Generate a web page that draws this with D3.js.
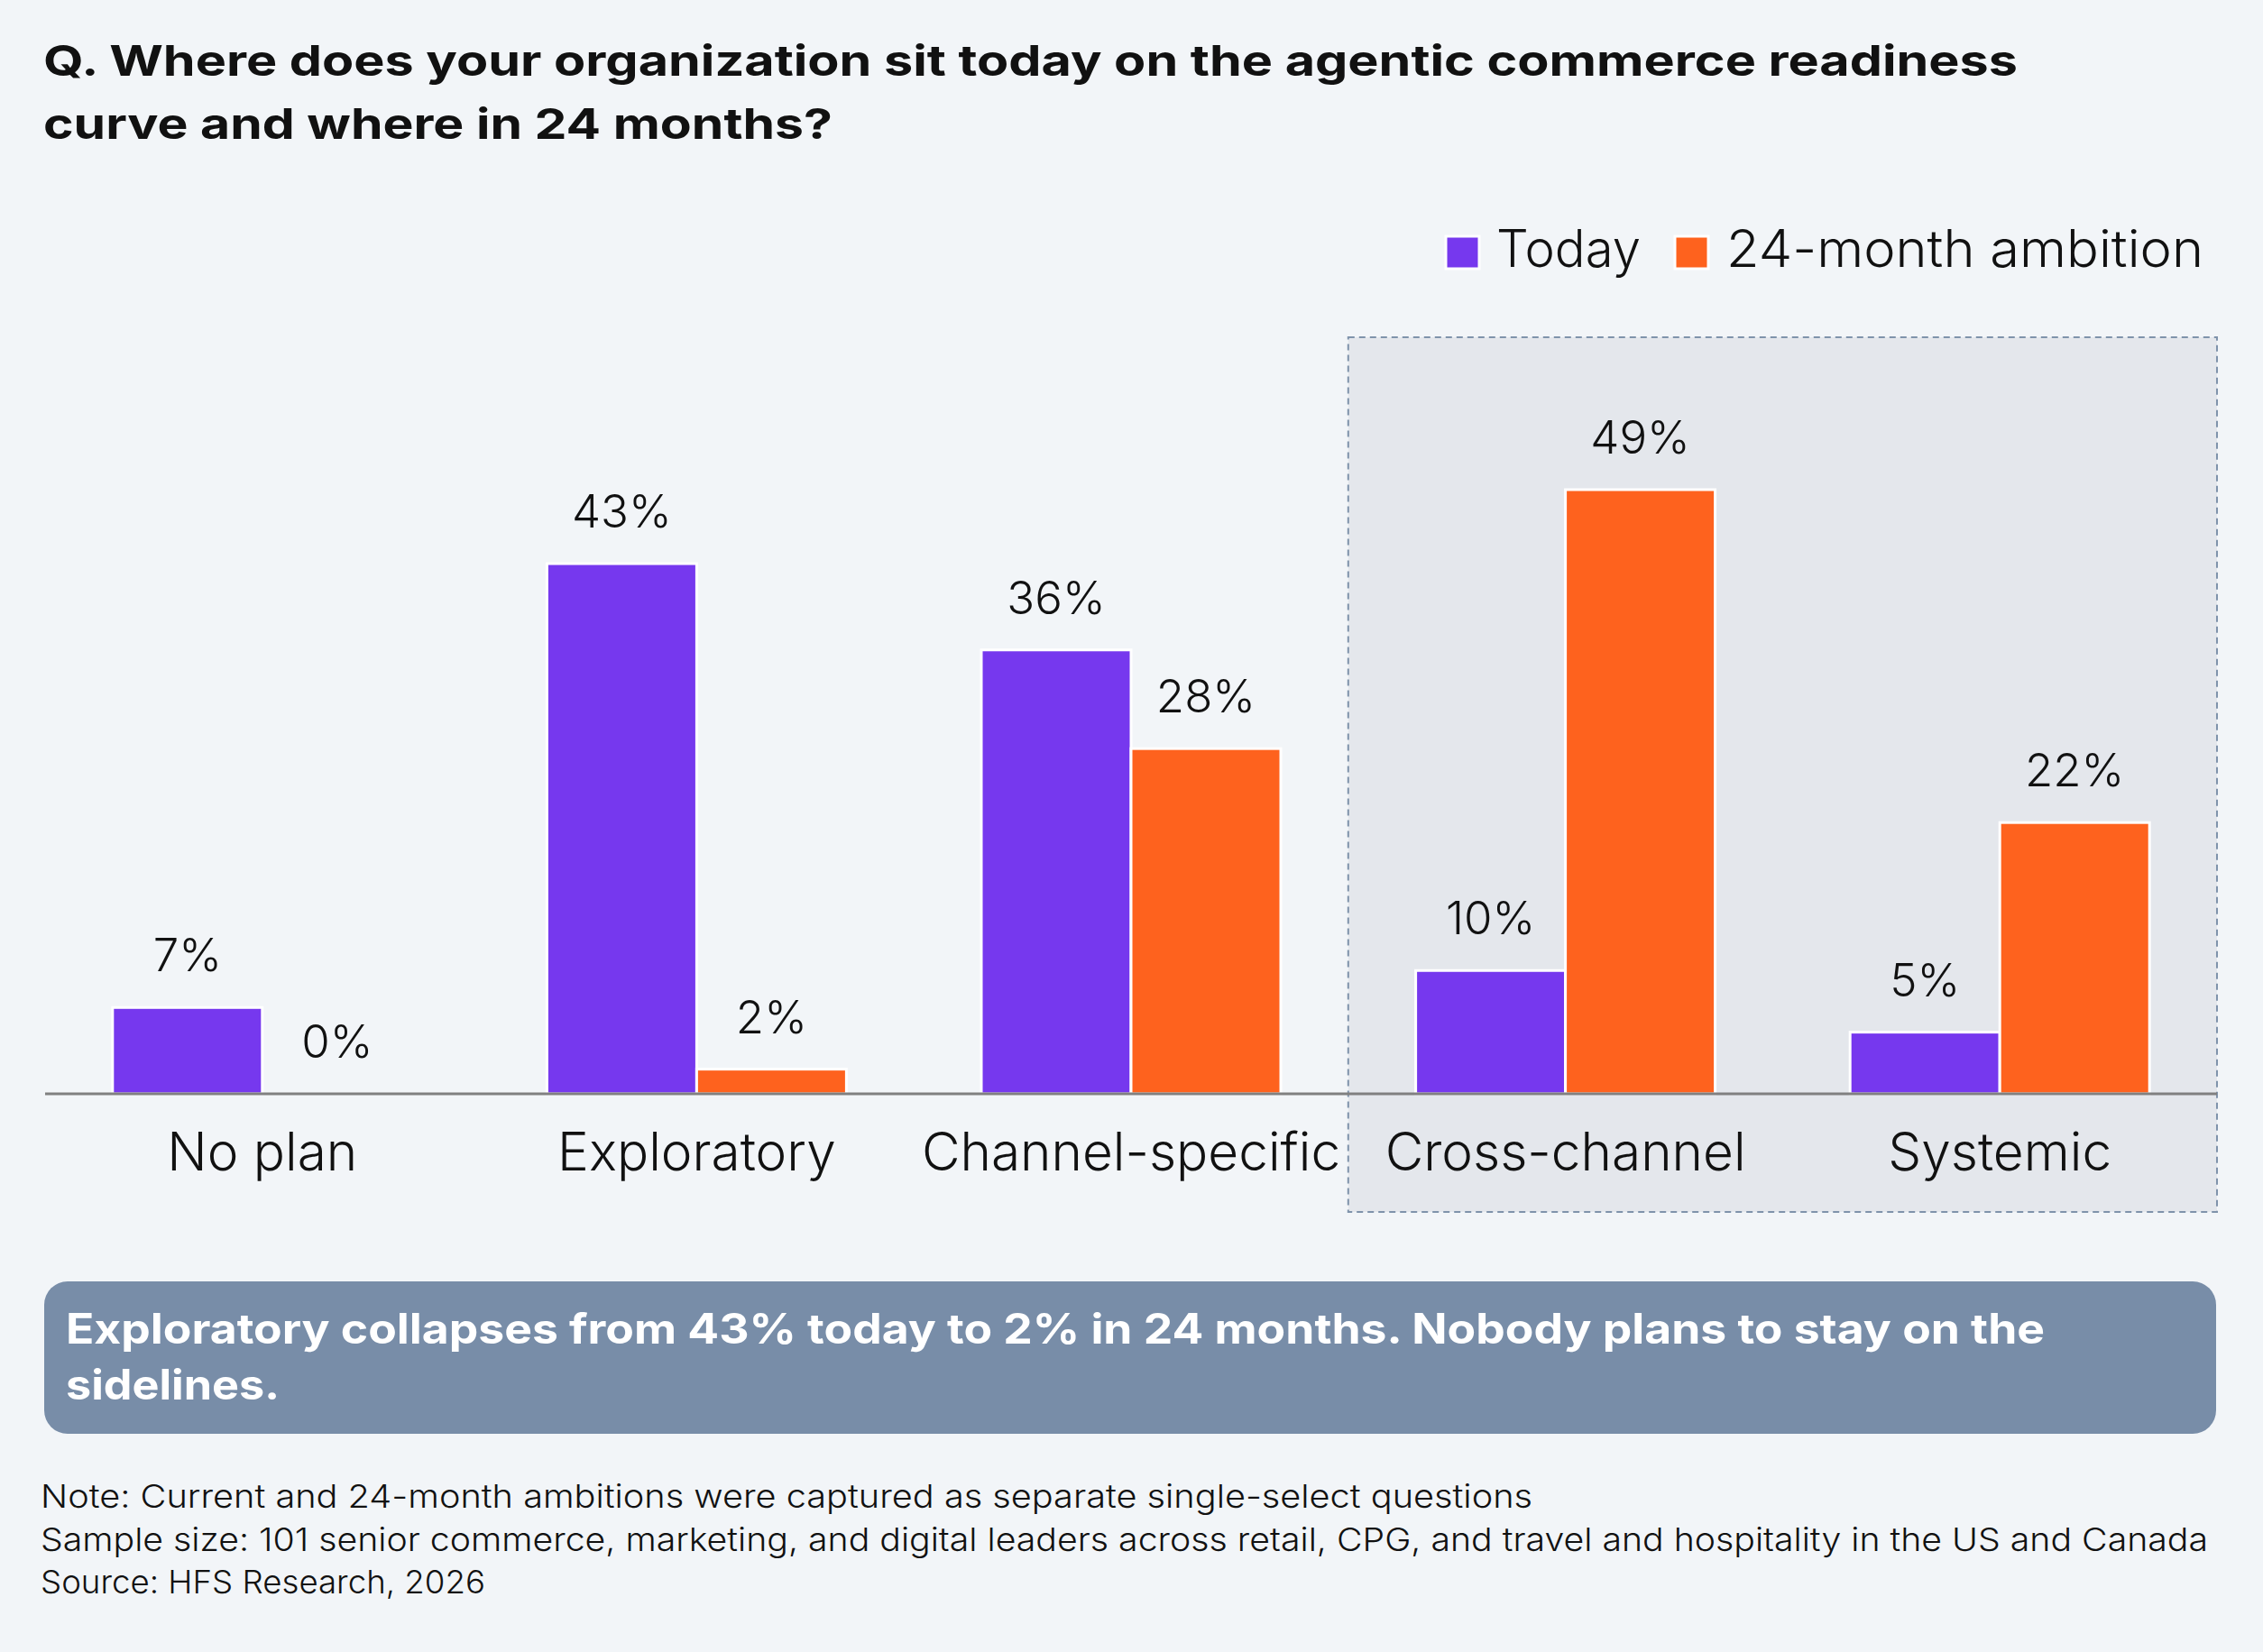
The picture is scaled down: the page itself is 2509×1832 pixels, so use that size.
<!DOCTYPE html>
<html><head><meta charset="utf-8">
<script src="https://cdn.jsdelivr.net/npm/d3@7"></script>
<style>html,body{margin:0;padding:0;background:#F2F5F8;}svg{display:block;}</style>
</head><body>
<svg id="chart" width="2509" height="1832"></svg>
<script>
const categories = ["No plan", "Exploratory", "Channel-specific", "Cross-channel", "Systemic"];
const seriesNames = ["Today", "24-month ambition"];
const todayValues = [7, 43, 36, 10, 5];
const ambitionValues = [0, 2, 28, 49, 22];
const highlightedCategories = ["Cross-channel", "Systemic"];
const titleLines = ["Q. Where does your organization sit today on the agentic commerce readiness", "curve and where in 24 months?"];
const calloutLines = ["Exploratory collapses from 43% today to 2% in 24 months. Nobody plans to stay on the", "sidelines."];
const noteLines = ["Note: Current and 24-month ambitions were captured as separate single-select questions",
  "Sample size: 101 senior commerce, marketing, and digital leaders across retail, CPG, and travel and hospitality in the US and Canada",
  "Source: HFS Research, 2026"];

const colors = {"Today": "#7638EE", "24-month ambition": "#FE621E"};
const FONT = "Inter, 'Open Sans', sans-serif";

const svg = d3.select("#chart");
svg.append("rect").attr("width", 2509).attr("height", 1832).attr("fill", "#F2F5F8");

const data = categories.map((c, i) => ({cat: c, values: [
  {s: seriesNames[0], v: todayValues[i]}, {s: seriesNames[1], v: ambitionValues[i]}]}));

const x0 = d3.scaleBand().domain(categories).range([50, 2458]).padding(0);
const x1 = d3.scaleBand().domain(seriesNames).range([0, 332]);
const y = d3.scaleLinear().domain([0, 49]).range([1213, 543]);

function fitLine(sel, w) {
  sel.attr("textLength", w).attr("lengthAdjust", "spacingAndGlyphs");
}

// title
titleLines.forEach((t, i) => {
  const el = svg.append("text").attr("x", 48).attr("y", 84 + i * 70)
    .attr("font-family", FONT).attr("font-weight", 700).attr("font-size", 47)
    .attr("fill", "#111").text(t);
  fitLine(el, i === 0 ? 2189 : 875);
});

// highlight box
const hx0 = x0(highlightedCategories[0]);
const hx1 = x0(highlightedCategories[highlightedCategories.length - 1]) + x0.bandwidth();
svg.append("rect").attr("x", hx0).attr("y", 374).attr("width", hx1 - hx0).attr("height", 1344 - 374)
  .attr("fill", "#E4E7EC").attr("stroke", "#7F93AB").attr("stroke-width", 2).attr("stroke-dasharray", "7,5");

// legend
const legendItems = [{s: seriesNames[0], x: 1603, tx: 1659, tw: 160}, {s: seriesNames[1], x: 1857, tx: 1914, tw: 529}];
legendItems.forEach(d => {
  svg.append("rect").attr("x", d.x).attr("y", 262).attr("width", 37).attr("height", 36)
    .attr("fill", colors[d.s]).attr("stroke", "#fff").attr("stroke-width", 3);
  const t = svg.append("text").attr("x", d.tx).attr("y", 296).attr("font-family", FONT)
    .attr("font-weight", 300).attr("font-size", 57).attr("fill", "#111").text(d.s);
  fitLine(t, d.tw);
});

// bars
const groups = svg.append("g").selectAll("g").data(data).join("g")
  .attr("transform", d => `translate(${x0(d.cat) + x0.bandwidth() / 2 - 166},0)`);
groups.selectAll("rect").data(d => d.values).join("rect")
  .attr("x", d => x1(d.s)).attr("width", x1.bandwidth())
  .attr("y", d => y(d.v)).attr("height", d => y(0) - y(d.v))
  .attr("fill", d => colors[d.s]).attr("stroke", d => d.v > 0 ? "#fff" : "none").attr("stroke-width", 3);
groups.selectAll("text").data(d => d.values).join("text")
  .attr("x", d => x1(d.s) + x1.bandwidth() / 2).attr("y", d => y(d.v) - 40)
  .attr("text-anchor", "middle").attr("font-family", FONT).attr("font-weight", 300)
  .attr("font-size", 51).attr("fill", "#111").text(d => d.v + "%");

// axis
const axis = svg.append("g").attr("transform", `translate(0,${y(0)})`)
  .call(d3.axisBottom(x0).tickSize(0).tickPadding(85));
axis.select(".domain").attr("stroke", "#808080").attr("stroke-width", 3).attr("d", `M50,0H2458`);
axis.selectAll(".tick text").attr("font-family", FONT).attr("font-weight", 300)
  .attr("font-size", 58.5).attr("fill", "#111").attr("dy", 0);

// callout
svg.append("rect").attr("x", 49).attr("y", 1421).attr("width", 2408).attr("height", 169)
  .attr("rx", 26).attr("fill", "#788DA8");
calloutLines.forEach((t, i) => {
  const el = svg.append("text").attr("x", 73).attr("y", 1490 + i * 62)
    .attr("font-family", FONT).attr("font-weight", 700).attr("font-size", 46)
    .attr("fill", "#fff").text(t);
  fitLine(el, i === 0 ? 2194 : 237);
});

// notes
const noteW = [1654, 2403, 493];
noteLines.forEach((t, i) => {
  const el = svg.append("text").attr("x", 45).attr("y", 1672 + i * 47.5)
    .attr("font-family", FONT).attr("font-weight", 300).attr("font-size", 36)
    .attr("fill", "#111").text(t);
  fitLine(el, noteW[i]);
});
</script>
</body></html>
